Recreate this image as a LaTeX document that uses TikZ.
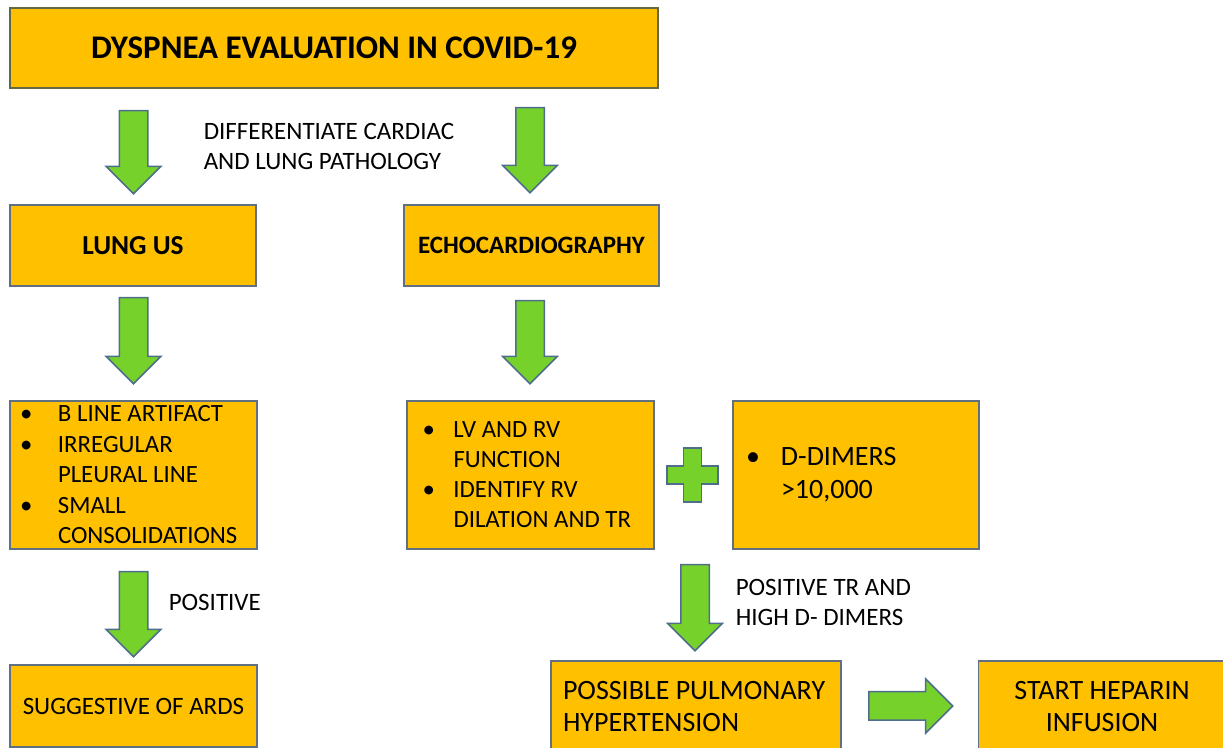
\documentclass[tikz,border=0pt]{standalone}
\usepackage{fontspec}
\setmainfont{Carlito}
\usepackage{tikz}
\usetikzlibrary{shapes,arrows,positioning}
\definecolor{boxorange}{RGB}{255,192,0}
\definecolor{boxline}{RGB}{96,112,128}
\definecolor{titleline}{RGB}{100,104,64}
\definecolor{arrowgreen}{RGB}{118,210,42}
\definecolor{arrowline}{RGB}{78,110,140}
\newcommand{\bul}[1]{\makebox[#1][l]{\textbullet}}

\begin{document}
\begin{tikzpicture}[x=0.5pt, y=-0.5pt, line width=0.75pt]
  \tikzstyle{box} = [rectangle, draw=boxline, fill=boxorange, inner sep=0pt, align=center]
  \tikzstyle{listbox} = [box, align=flush left, minimum height=74pt]
  \tikzstyle{greenarrow} = [single arrow, draw=arrowline, fill=arrowgreen, inner xsep=0pt, inner ysep=6.75pt, single arrow head extend=6.5pt, single arrow tip angle=90, text height=0pt, text depth=0pt, minimum height=42pt, anchor=tail]
  \tikzstyle{downarrow} = [greenarrow, rotate=-90]
  \tikzstyle{note} = [align=flush left, inner sep=0pt, anchor=west, font=\fontsize{12.5}{15}\selectfont]

  \useasboundingbox (0,0) rectangle (1223,748);

  % title
  \node[box, draw=titleline, minimum width=324pt, minimum height=40pt, font=\fontsize{16.5}{20}\selectfont\bfseries] (title) at (334,48) {DYSPNEA EVALUATION IN COVID-19};

  \node[downarrow, minimum height=41.5pt] (a1) at (133.5,110) {};
  \node[downarrow, minimum height=42.5pt] (a2) at (530,107) {};
  \node[note] (diff) at (203,146) {DIFFERENTIATE CARDIAC\\AND LUNG PATHOLOGY};

  % second row
  \node[box, minimum width=123pt, minimum height=40.5pt, font=\fontsize{13.7}{16}\selectfont\bfseries] (lung) at (133,245.5) {LUNG US};
  \node[box, minimum width=127.5pt, minimum height=40.5pt, font=\fontsize{12.5}{15}\selectfont\bfseries] (echo) at (531.5,245.5) {ECHOCARDIOGRAPHY};

  \node[downarrow, minimum height=43pt] (a3) at (133.5,297) {};
  \node[downarrow, minimum height=41.5pt] (a4) at (530,300) {};

  % findings
  \node[listbox, text width=113.5pt, inner xsep=5pt, font=\fontsize{12.4}{15.25}\selectfont] (lfind) at (133.5,475)
    {\bul{19pt}B LINE ARTIFACT\\ \bul{19pt}IRREGULAR\\ \hspace*{19pt}PLEURAL LINE\\ \bul{19pt}SMALL\\ \hspace*{19pt}CONSOLIDATIONS};
  \node[listbox, text width=108pt, inner xsep=7.75pt, font=\fontsize{12.4}{15}\selectfont] (efind) at (530.5,475)
    {\bul{15.5pt}LV AND RV\\ \hspace*{15.5pt}FUNCTION\\ \bul{15.5pt}IDENTIFY RV\\ \hspace*{15.5pt}DILATION AND TR};
  \node[listbox, text width=110pt, inner xsep=6.5pt, font=\fontsize{14}{16.5}\selectfont] (ddimer) at (856,475)
    {\bul{17.5pt}D-DIMERS\\ \hspace*{17.5pt}>10,000};

  % plus sign
  \draw[draw=arrowline, fill=arrowgreen] (683.5,448) -- (701.5,448) -- (701.5,466) -- (718,466) -- (718,484)
    -- (701.5,484) -- (701.5,502) -- (683.5,502) -- (683.5,484) -- (667,484) -- (667,466) -- (683.5,466) -- cycle;

  \node[downarrow, minimum height=42.5pt] (a5) at (133.5,571) {};
  \node[note] (pos) at (168,602) {POSITIVE};
  \node[downarrow, minimum height=43pt] (a6) at (695,564) {};
  \node[note] (postr) at (735,602) {POSITIVE TR AND\\HIGH D- DIMERS};

  % bottom row
  \node[box, minimum width=123.5pt, minimum height=41pt, font=\fontsize{12.5}{15}\selectfont] (ards) at (133.5,706) {SUGGESTIVE OF ARDS};
  \node[box, align=flush left, text width=133pt, inner xsep=6pt, minimum height=45.5pt, font=\fontsize{14}{16}\selectfont] (ph) at (696,706.5) {POSSIBLE PULMONARY\\HYPERTENSION};
  \node[greenarrow] (a7) at (868,706) {};
  \node[box, minimum width=123.5pt, minimum height=45.5pt, font=\fontsize{14}{16}\selectfont] (heparin) at (1102,706.5) {START HEPARIN\\INFUSION};
\end{tikzpicture}
\end{document}
